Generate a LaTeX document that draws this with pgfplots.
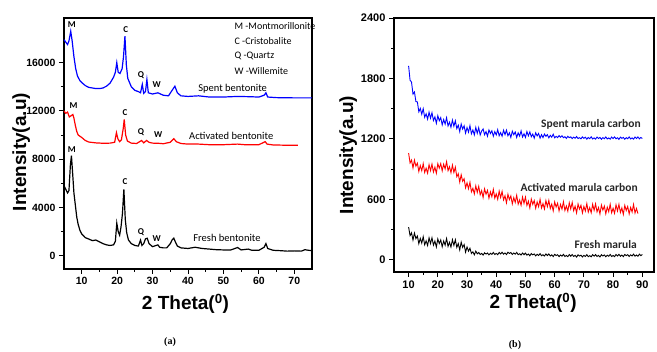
\documentclass[border=0pt]{standalone}
\usepackage{pgfplots}
\pgfplotsset{compat=1.18}
\usepackage{fontspec}
\setmainfont{Liberation Sans}
\newfontfamily\calf{Carlito}
\newfontfamily\serf{Liberation Serif}
\definecolor{xblue}{RGB}{0,0,255}
\definecolor{xred}{RGB}{255,0,0}
\begin{document}
\begin{tikzpicture}
\path[use as bounding box] (0pt,0pt) rectangle (657pt,352pt);
\pgfplotsset{
 common/.style={
  scale only axis,
  axis line style={line width=1.1pt},
  tick align=outside,
  xtick pos=left, ytick pos=left,
  major tick length=5pt, minor tick length=3pt,
  every tick/.style={black, line width=0.9pt},
  tick label style={font=\fontsize{10.5}{11}\selectfont\bfseries},
  /pgf/number format/assume math mode=true,
  /pgf/number format/1000 sep={},
  scaled y ticks=false,
  label style={font=\fontsize{19}{20}\selectfont\bfseries},
  clip=false,
 }
}
% ---------------- panel (a) ----------------
\begin{axis}[common, at={(64pt,83pt)}, anchor=south west, width=248pt, height=251pt,
  xmin=5, xmax=75, ymin=-1100, ymax=19700,
  xtick={10,20,...,70}, ytick={0,4000,...,16000},
  minor x tick num=1, minor y tick num=1,
  xlabel={2 Theta(\textsuperscript{0})}, ylabel={Intensity(a.u)},
  xlabel style={at={(axis description cs:0.49,-0.14)}, anchor=center},
  ylabel style={at={(axis description cs:-0.173,0.466)}, anchor=center},
]
\addplot[black, line width=1.2pt] coordinates {
(5,5800) (5.5,5500) (6,5200) (6.4,5400) (6.8,7500) (7.1,8300) (7.4,7000) (7.8,5200)
(8.2,4200) (8.6,3200) (9,2600) (9.5,2100) (10,1800) (11,1500) (12,1380) (13,1250)
(14,1300) (15,1150) (16,1000) (17,900) (18,850) (19,900) (19.5,1200) (19.9,2700)
(20.3,2000) (20.7,1700) (21.1,2400) (21.5,3500) (21.9,5500) (22.3,3000) (22.7,1900)
(23.2,1300) (24,1000) (25,850) (26,800) (26.6,1300) (27,850) (27.5,1000) (28,1400)
(28.5,1450) (29,1000) (30,750) (31,850) (31.5,900) (32,700) (33,650) (34,650)
(35,1000) (35.5,1300) (36,1450) (36.5,1100) (37,800) (38,650) (40,600) (42,700)
(44,600) (46,550) (48,500) (50,480) (52,470) (54,680) (55,480) (57,550) (58,450)
(60,450) (61.5,700) (62,1000) (62.5,600) (64,450) (66,420) (68,380) (70,400)
(72,380) (73,500) (74,450) (75,420)
};
\addplot[xred, line width=1.2pt] coordinates {
(5,12000) (5.5,11800) (6,11900) (6.5,11500) (7,11600) (7.5,11700) (7.8,11400)
(8.2,10800) (8.6,10300) (9,10000) (10,9800) (11,9550) (12,9420) (14,9350) (16,9320)
(18,9330) (19.3,9400) (19.8,10200) (20.2,9700) (20.7,9450) (21.2,9600) (21.7,10500)
(22,11300) (22.4,10000) (22.9,9500) (24,9330) (25.5,9300) (26.9,9550) (27.5,9350)
(28.3,9550) (29,9400) (30,9330) (31.5,9320) (33,9280) (35,9400) (36,9700) (36.7,9450)
(38,9300) (40,9250) (43,9250) (46,9200) (50,9200) (54,9250) (56,9200) (60,9200)
(61.8,9450) (62.3,9250) (64,9180) (67,9160) (71,9150)
};
\addplot[xblue, line width=1.2pt] coordinates {
(5,17900) (5.5,17700) (6,17500) (6.4,17800) (6.9,18600) (7.3,17800) (7.8,16500)
(8.3,15500) (8.8,14900) (9.5,14500) (10,14350) (11,14100) (12,13950) (13,13900)
(14,13850) (15,13850) (16,13900) (17,14050) (18,14300) (19,14800) (19.5,15200)
(19.9,16000) (20.3,15200) (20.8,15100) (21.4,15500) (21.8,16500) (22.2,18200)
(22.6,15800) (23,14700) (24,14000) (25,13700) (26,13600) (26.6,13500) (27.1,14200)
(27.5,13450) (28,13600) (28.4,14600) (28.8,13500) (30,13400) (31.5,13500) (33,13300)
(34.5,13250) (35.5,13700) (36.3,14050) (37,13500) (38,13250) (40,13200) (43,13250)
(46,13150) (50,13150) (54,13200) (57,13180) (60,13150) (61.5,13300) (62,13500)
(62.5,13150) (65,13100) (70,13080) (75,13080)
};
\begin{scope}[every node/.style={font=\calf\bfseries\fontsize{9}{9}\selectfont, inner sep=0pt}]
\node at (axis cs:7.2,19180) {M};
\node at (axis cs:22.4,18700) {C};
\node at (axis cs:26.7,14960) {Q};
\node at (axis cs:31.2,14210) {W};
\node at (axis cs:7.7,12475) {M};
\node at (axis cs:22.2,11850) {C};
\node at (axis cs:26.7,10270) {Q};
\node at (axis cs:31.6,10000) {W};
\node at (axis cs:7.2,8830) {M};
\node at (axis cs:22.2,6130) {C};
\node at (axis cs:26.7,1930) {Q};
\node at (axis cs:31.2,1440) {W};
\end{scope}
\begin{scope}[every node/.style={font=\calf\fontsize{10.5}{10.5}\selectfont, inner sep=0pt}]
\node at (axis cs:52.6,13800) {Spent bentonite};
\node at (axis cs:52.2,9940) {Activated bentonite};
\node at (axis cs:51,1440) {Fresh bentonite};
\end{scope}
\begin{scope}[every node/.style={font=\calf\fontsize{10}{10}\selectfont, inner sep=0pt, anchor=west}]
\node at (axis cs:53.1,19060) {M -Montmorillonite};
\node at (axis cs:53.1,17810) {C -Cristobalite};
\node at (axis cs:53.1,16570) {Q -Quartz};
\node at (axis cs:53.1,15330) {W -Willemite};
\end{scope}
\end{axis}
% ---------------- panel (b) ----------------
\begin{axis}[common, at={(394pt,80pt)}, anchor=south west, width=260pt, height=254pt,
  xmin=5, xmax=94, ymin=-120, ymax=2400,
  xtick={10,20,...,90}, ytick={0,600,...,2400},
  minor x tick num=1, minor y tick num=1,
  tick label style={font=\fontsize{11}{11}\selectfont\bfseries},
  xlabel={2 Theta(\textsuperscript{0})}, ylabel={Intensity(a.u)},
  xlabel style={at={(axis description cs:0.535,-0.12)}, anchor=center},
  ylabel style={at={(axis description cs:-0.176,0.46)}, anchor=center},
]
\addplot[xblue, line width=0.9pt] coordinates {
(10,1925) (10.5,1783) (11,1764) (11.5,1645) (12,1666) (12.5,1571) (13,1567) (13.5,1469)
(14,1503) (14.5,1445) (15,1500) (15.5,1415) (16,1449) (16.5,1396) (17,1466) (17.5,1406)
(18,1460) (18.5,1383) (19,1419) (19.5,1355) (20,1431) (20.5,1381) (21,1412) (21.5,1339)
(22,1393) (22.5,1347) (23,1411) (23.5,1329) (24,1366) (24.5,1316) (25,1387) (25.5,1326)
(26,1380) (26.5,1302) (27,1337) (27.5,1273) (28,1348) (28.5,1298) (29,1330) (29.5,1258)
(30,1313) (30.5,1268) (31,1332) (31.5,1251) (32,1289) (32.5,1240) (33,1314) (33.5,1256)
(34,1312) (34.5,1239) (35,1279) (35.5,1299) (36,1242) (36.5,1273) (37,1227) (37.5,1289)
(38,1254) (38.5,1281) (39,1227) (39.5,1273) (40,1240) (40.5,1292) (41,1231) (41.5,1263)
(42,1227) (42.5,1286) (43,1243) (43.5,1287) (44,1231) (44.5,1261) (45,1215) (45.5,1277)
(46,1242) (46.5,1269) (47,1215) (47.5,1261) (48,1228) (48.5,1280) (49,1219) (49.5,1251)
(50,1215) (50.5,1274) (51,1231) (51.5,1270) (52,1222) (52.5,1248) (53,1208) (53.5,1261)
(54,1230) (54.5,1254) (55,1208) (55.5,1242) (56,1213) (56.5,1248) (57,1227) (57.5,1242)
(58,1211) (58.5,1236) (59,1217) (59.5,1246) (60,1211) (60.5,1226) (61,1213) (61.5,1233)
(62,1217) (62.5,1232) (63,1212) (63.5,1222) (64,1205) (64.5,1226) (65,1213) (65.5,1221)
(66,1203) (66.5,1218) (67,1207) (67.5,1224) (68,1204) (68.5,1213) (69,1201) (69.5,1221)
(70,1206) (70.5,1217) (71,1198) (71.5,1214) (72,1203) (72.5,1221) (73,1200) (73.5,1210)
(74,1198) (74.5,1219) (75,1204) (75.5,1215) (76,1197) (76.5,1213) (77,1202) (77.5,1220)
(78,1200) (78.5,1210) (79,1198) (79.5,1219) (80,1204) (80.5,1220) (81,1201) (81.5,1212)
(82,1196) (82.5,1218) (83,1206) (83.5,1215) (84,1197) (84.5,1213) (85,1202) (85.5,1220)
(86,1200) (86.5,1210) (87,1198) (87.5,1219) (88,1204) (88.5,1220) (89,1201) (89.5,1214)
(90,1205)
};
\addplot[xred, line width=0.9pt] coordinates {
(10,1060) (10.5,962) (11,990) (11.5,912) (12,990) (12.5,930) (13,960) (13.5,877)
(14,935) (14.5,885) (15,955) (15.5,867) (16,910) (16.5,860) (17,945) (17.5,885)
(18,950) (18.5,872) (19,920) (19.5,860) (20,955) (20.5,910) (21,955) (21.5,883)
(22,950) (22.5,903) (23,975) (23.5,885) (24,925) (24.5,865) (25,940) (25.5,867)
(26,920) (26.5,825) (27,855) (27.5,772) (28,845) (28.5,780) (29,805) (29.5,715)
(30,765) (30.5,707) (31,770) (31.5,675) (32,710) (32.5,655) (33,735) (33.5,670)
(34,730) (34.5,646) (35,687) (35.5,618) (36,705) (36.5,652) (37,690) (37.5,612)
(38,675) (38.5,627) (39,700) (39.5,612) (40,655) (40.5,601) (41,683) (41.5,619)
(42,680) (42.5,595) (43,636) (43.5,566) (44,652) (44.5,598) (45,635) (45.5,556)
(46,618) (46.5,570) (47,641) (47.5,553) (48,595) (48.5,542) (49,624) (49.5,561)
(50,623) (50.5,540) (51,583) (51.5,515) (52,603) (52.5,551) (53,589) (53.5,512)
(54,575) (54.5,528) (55,601) (55.5,515) (56,558) (56.5,506) (57,589) (57.5,528)
(58,591) (58.5,510) (59,553) (59.5,486) (60,575) (60.5,524) (61,562) (61.5,486)
(62,550) (62.5,504) (63,577) (63.5,491) (64,535) (64.5,483) (65,567) (65.5,506)
(66,570) (66.5,488) (67,532) (67.5,466) (68,555) (68.5,504) (69,542) (69.5,466)
(70,530) (70.5,485) (71,559) (71.5,474) (72,518) (72.5,468) (73,552) (73.5,492)
(74,556) (74.5,476) (75,520) (75.5,455) (76,544) (76.5,494) (77,534) (77.5,458)
(78,523) (78.5,478) (79,552) (79.5,467) (80,512) (80.5,462) (81,547) (81.5,486)
(82,551) (82.5,471) (83,516) (83.5,451) (84,541) (84.5,490) (85,530) (85.5,455)
(86,520) (86.5,475) (87,550) (87.5,465) (88,510) (88.5,460)
};
\addplot[black, line width=0.9pt] coordinates {
(10,325) (10.5,241) (11,269) (11.5,197) (12,266) (12.5,211) (13,237) (13.5,161)
(14,213) (14.5,167) (15,230) (15.5,150) (16,189) (16.5,143) (17,219) (17.5,162)
(18,220) (18.5,147) (19,187) (19.5,128) (20,208) (20.5,163) (21,198) (21.5,130)
(22,188) (22.5,146) (23,212) (23.5,134) (24,174) (24.5,127) (25,201) (25.5,144)
(26,200) (26.5,124) (27,162) (27.5,99) (28,176) (28.5,124) (29,152) (29.5,77)
(30,128) (30.5,87) (31,115) (31.5,64) (32,80) (32.5,50) (33,87) (33.5,60)
(34,74) (34.5,54) (35,64) (35.5,48) (36,70) (36.5,58) (37,68) (37.5,50)
(38,66) (38.5,55) (39,74) (39.5,54) (40,64) (40.5,52) (41,74) (41.5,59)
(42,76) (42.5,57) (43,69) (43.5,53) (44,76) (44.5,64) (45,73) (45.5,54)
(46,69) (46.5,57) (47,74) (47.5,52) (48,61) (48.5,48) (49,68) (49.5,52)
(50,67) (50.5,47) (51,58) (51.5,41) (52,63) (52.5,50) (53,59) (53.5,40)
(54,56) (54.5,44) (55,62) (55.5,41) (56,51) (56.5,38) (57,59) (57.5,43)
(58,59) (58.5,39) (59,50) (59.5,33) (60,55) (60.5,43) (61,51) (61.5,33)
(62,48) (62.5,37) (63,55) (63.5,34) (64,44) (64.5,32) (65,53) (65.5,37)
(66,53) (66.5,34) (67,45) (67.5,28) (68,50) (68.5,38) (69,47) (69.5,29)
(70,45) (70.5,34) (71,52) (71.5,32) (72,42) (72.5,31) (73,52) (73.5,37)
(74,53) (74.5,34) (75,45) (75.5,29) (76,51) (76.5,39) (77,49) (77.5,31)
(78,47) (78.5,36) (79,54) (79.5,34) (80,44) (80.5,32) (81,54) (81.5,39)
(82,55) (82.5,36) (83,48) (83.5,32) (84,54) (84.5,42) (85,52) (85.5,34)
(86,50) (86.5,39) (87,57) (87.5,37) (88,48) (88.5,36) (89,57) (89.5,42) (90,54)
};
\begin{scope}[every node/.style={font=\calf\bfseries\fontsize{11.5}{12}\selectfont, inner sep=0pt, anchor=east, text=black!85}]
\node at (axis cs:89.5,1349) {Spent marula carbon};
\node at (axis cs:88.5,714) {Activated marula carbon};
\node at (axis cs:88.2,149) {Fresh marula};
\end{scope}
\end{axis}
\node[font=\serf\bfseries\fontsize{10}{10}\selectfont] at (170pt,10pt) {(a)};
\node[font=\serf\bfseries\fontsize{10}{10}\selectfont] at (515pt,7pt) {(b)};
\end{tikzpicture}
\end{document}
